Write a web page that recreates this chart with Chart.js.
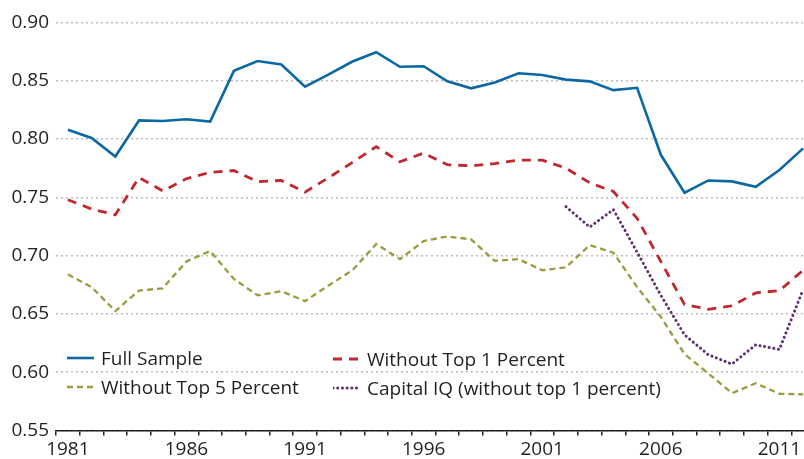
<!DOCTYPE html>
<html>
<head>
<meta charset="utf-8">
<script src="https://cdn.jsdelivr.net/npm/chart.js@4.4.1/dist/chart.umd.min.js"></script>
<style>
    html, body { margin: 0; padding: 0; background: #fff; overflow: hidden; }
    #wrap { position: relative; width: 815px; height: 459px; }
    #legend { position: absolute; left: 0; top: 0; font-family: "Open Sans", sans-serif; font-size: 19px; color: #231f20; }
    .item { position: absolute; display: flex; align-items: center; white-space: nowrap; height: 24px; }
    .item svg { margin-right: 6px; }
</style>
</head>
<body>
<div id="wrap">
    <canvas id="chart" width="815" height="459"></canvas>
    <div id="legend"></div>
</div>
<script>
const years = [];
for (let y = 1981; y <= 2012; y++) years.push(String(y));

const fullSample = [0.808, 0.801, 0.785, 0.816, 0.8155, 0.817, 0.815, 0.8585, 0.867, 0.864,
    0.845, 0.8555, 0.8665, 0.8745, 0.862, 0.8625, 0.8495, 0.8435, 0.8485, 0.8565,
    0.855, 0.851, 0.8495, 0.842, 0.844, 0.7865, 0.754, 0.7645, 0.7637, 0.759, 0.7735, 0.792];

const withoutTop1 = [0.748, 0.740, 0.735, 0.767, 0.7555, 0.766, 0.7715, 0.773, 0.7635, 0.7645,
    0.7545, 0.767, 0.780, 0.7935, 0.7805, 0.788, 0.778, 0.777, 0.779, 0.782,
    0.782, 0.775, 0.7625, 0.755, 0.732, 0.695, 0.658, 0.654, 0.657, 0.668, 0.670, 0.6875];

const withoutTop5 = [0.684, 0.673, 0.6525, 0.670, 0.672, 0.695, 0.704, 0.680, 0.666, 0.6695,
    0.661, 0.6745, 0.6875, 0.710, 0.697, 0.7125, 0.7165, 0.714, 0.6955, 0.697,
    0.6875, 0.690, 0.709, 0.7025, 0.673, 0.6475, 0.6155, 0.599, 0.582, 0.5905, 0.5815, 0.581];

const capitalIQ = [null, null, null, null, null, null, null, null, null, null,
    null, null, null, null, null, null, null, null, null, null,
    null, 0.742, 0.7245, 0.7395, 0.703, 0.666, 0.632, 0.615, 0.607, 0.6235, 0.6195, 0.671];

const yTicks = [0.55, 0.60, 0.65, 0.70, 0.75, 0.80, 0.85, 0.90];

const textColor = '#231f20';

const series = [
    { label: 'Full Sample', data: fullSample, color: '#0b68a3', width: 2.6, dash: [], cap: 'butt' },
    { label: 'Without Top 1 Percent', data: withoutTop1, color: '#c1272d', width: 2.8, dash: [9, 7], cap: 'butt' },
    { label: 'Without Top 5 Percent', data: withoutTop5, color: '#9c9a3d', width: 2.3, dash: [6, 4], cap: 'butt' },
    { label: 'Capital IQ (without top 1 percent)', data: capitalIQ, color: '#613070', width: 3, dash: [0.1, 4.6], cap: 'round' }
];

new Chart(document.getElementById('chart'), {
    type: 'line',
    data: {
        labels: years,
        datasets: series.map(s => ({
            label: s.label,
            data: s.data,
            borderColor: s.color,
            borderWidth: s.width,
            borderDash: s.dash,
            borderCapStyle: s.cap,
            pointRadius: 0,
            tension: 0,
            fill: false
        }))
    },
    options: {
        responsive: false,
        devicePixelRatio: 1,
        animation: false,
        layout: { padding: { top: 22.5, right: 0, left: 0, bottom: 0 } },
        plugins: {
            legend: { display: false },
            tooltip: { enabled: false }
        },
        scales: {
            x: {
                offset: true,
                afterFit: scale => { scale.height = 28.5; },
                grid: {
                    offset: true,
                    drawOnChartArea: false,
                    drawTicks: true,
                    tickLength: 5,
                    color: textColor,
                    lineWidth: 1.5
                },
                border: { color: textColor, width: 1.5 },
                ticks: {
                    autoSkip: false,
                    maxRotation: 0,
                    padding: 3,
                    color: textColor,
                    font: { family: 'Open Sans', size: 19 },
                    callback: (v, i) => (i % 5 === 0 ? years[i] : '')
                }
            },
            y: {
                min: 0.55,
                max: 0.90,
                afterFit: scale => { scale.width = 56; },
                afterBuildTicks: scale => { scale.ticks = yTicks.map(v => ({ value: v })); },
                border: { display: false, dash: [2, 3] },
                grid: {
                    drawTicks: false,
                    color: '#bdbdbd',
                    lineWidth: 1.5
                },
                ticks: {
                    padding: 7,
                    color: textColor,
                    font: { family: 'Open Sans', size: 19 },
                    callback: v => v.toFixed(2)
                }
            }
        }
    }
});

// legend laid over the plot, two columns
const legendPos = [
    { x: 67, y: 346 },
    { x: 333, y: 347 },
    { x: 67, y: 375 },
    { x: 333, y: 376 }
];
const legend = document.getElementById('legend');
series.forEach((s, i) => {
    const item = document.createElement('div');
    item.className = 'item';
    item.style.left = legendPos[i].x + 'px';
    item.style.top = legendPos[i].y + 'px';
    const dash = s.dash.length ? s.dash.join(' ') : 'none';
    item.innerHTML = `<svg width="28" height="10"><line x1="0" y1="5" x2="27" y2="5" stroke="${s.color}" stroke-width="${s.width}" stroke-dasharray="${dash}" stroke-linecap="${s.cap}"/></svg><span>${s.label}</span>`;
    legend.appendChild(item);
});
</script>
</body>
</html>
